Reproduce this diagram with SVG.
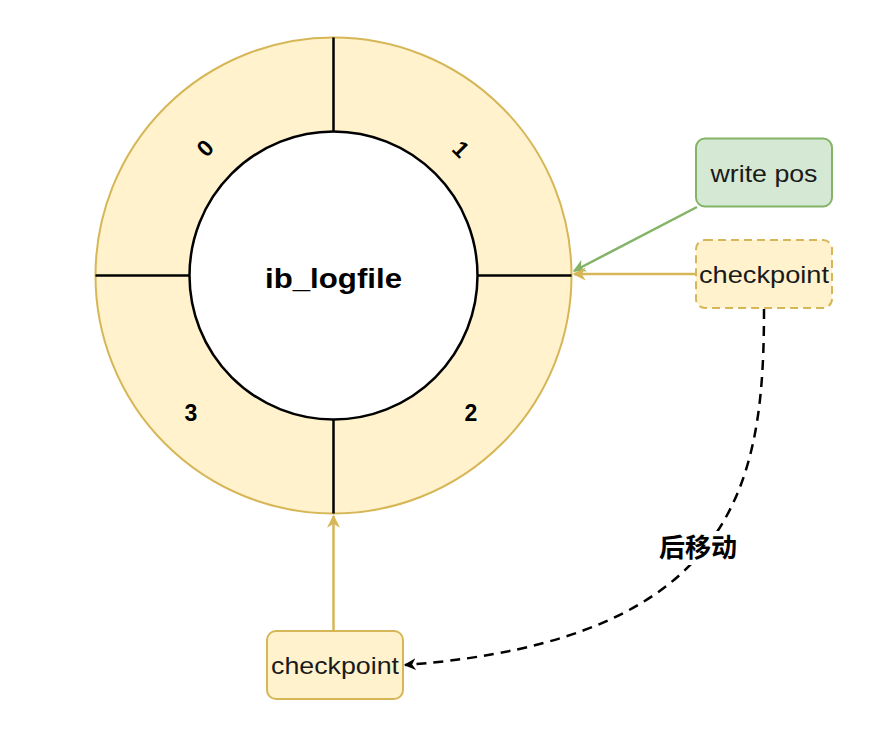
<svg xmlns="http://www.w3.org/2000/svg" width="889" height="735" viewBox="0 0 889 735">
<style>
.t{font-family:"Liberation Sans",Arial,sans-serif;fill:#000}
.num{font-size:23px;font-weight:bold;text-anchor:middle}
.lbl{font-size:24px;text-anchor:middle;dominant-baseline:central;fill:#1a1a1a}
.seg{stroke:#000;stroke-width:2.5;fill:none}
</style>
<defs>
<marker id="ay" viewBox="0 0 10 10" refX="9" refY="5" markerWidth="13" markerHeight="13" markerUnits="userSpaceOnUse" orient="auto"><path d="M0,0 L10,5 L0,10 L3,5 Z" fill="#d6b656"/></marker>
<marker id="ag" viewBox="0 0 10 10" refX="9" refY="5" markerWidth="13" markerHeight="13" markerUnits="userSpaceOnUse" orient="auto"><path d="M0,0 L10,5 L0,10 L3,5 Z" fill="#82b366"/></marker>
<marker id="ak" viewBox="0 0 10 10" refX="9" refY="5" markerWidth="12" markerHeight="12" markerUnits="userSpaceOnUse" orient="auto"><path d="M0,0 L10,5 L0,10 L3,5 Z" fill="#000"/></marker>
</defs>
<rect width="889" height="735" fill="#ffffff"/>
<g id="ring">
<circle cx="333.5" cy="275.5" r="238" fill="#fff2cc" stroke="#d6b656" stroke-width="2"/>
<line class="seg" x1="333.5" y1="37.5" x2="333.5" y2="132"/>
<line class="seg" x1="333.5" y1="419" x2="333.5" y2="513.5"/>
<line class="seg" x1="95.5" y1="275.5" x2="189" y2="275.5"/>
<line class="seg" x1="478" y1="275.5" x2="571.5" y2="275.5"/>
<circle cx="333.5" cy="275.5" r="144" fill="#ffffff" stroke="#000" stroke-width="2.5"/>
<text class="t" x="333.5" y="288" font-size="28" font-weight="bold" text-anchor="middle" textLength="137" lengthAdjust="spacingAndGlyphs">ib_logfile</text>
<text class="t num" transform="translate(205,148) rotate(-45)" y="8">0</text>
<text class="t num" transform="translate(461,149) rotate(45)" y="8">1</text>
<text class="t num" x="471" y="421">2</text>
<text class="t num" x="191" y="421">3</text>
</g>
<g id="writepos">
<rect x="696" y="138.5" width="136" height="68" rx="9" fill="#d5e8d4" stroke="#82b366" stroke-width="2"/>
<text class="t lbl" x="764" y="173" textLength="107" lengthAdjust="spacingAndGlyphs">write pos</text>
</g>
<g id="checkpoint1">
<rect x="696" y="240" width="136" height="68" rx="9" fill="#fff2cc" stroke="#d6b656" stroke-width="2" stroke-dasharray="8,5"/>
<text class="t lbl" x="764" y="274" textLength="130" lengthAdjust="spacingAndGlyphs">checkpoint</text>
</g>
<g id="checkpoint2">
<rect x="267" y="631" width="136" height="68" rx="9" fill="#fff2cc" stroke="#d6b656" stroke-width="2"/>
<text class="t lbl" x="335" y="665" textLength="128" lengthAdjust="spacingAndGlyphs">checkpoint</text>
</g>
<g id="connectors">
<line x1="697" y1="207" x2="574" y2="271" stroke="#82b366" stroke-width="2.5" marker-end="url(#ag)"/>
<line x1="696" y1="274" x2="574" y2="274" stroke="#d6b656" stroke-width="2.5" marker-end="url(#ay)"/>
<line x1="333.5" y1="631" x2="333.5" y2="516" stroke="#d6b656" stroke-width="2.5" marker-end="url(#ay)"/>
<path d="M764,309 C764,480 740,640 405,665" fill="none" stroke="#000" stroke-width="2.5" stroke-dasharray="10,7" marker-end="url(#ak)"/>
<rect x="655" y="531" width="88" height="34" fill="#ffffff"/>
<text x="698" y="557" font-family="'Noto Sans CJK SC',sans-serif" font-size="26" font-weight="bold" text-anchor="middle" fill="#000">后移动</text>
</g>
</svg>
